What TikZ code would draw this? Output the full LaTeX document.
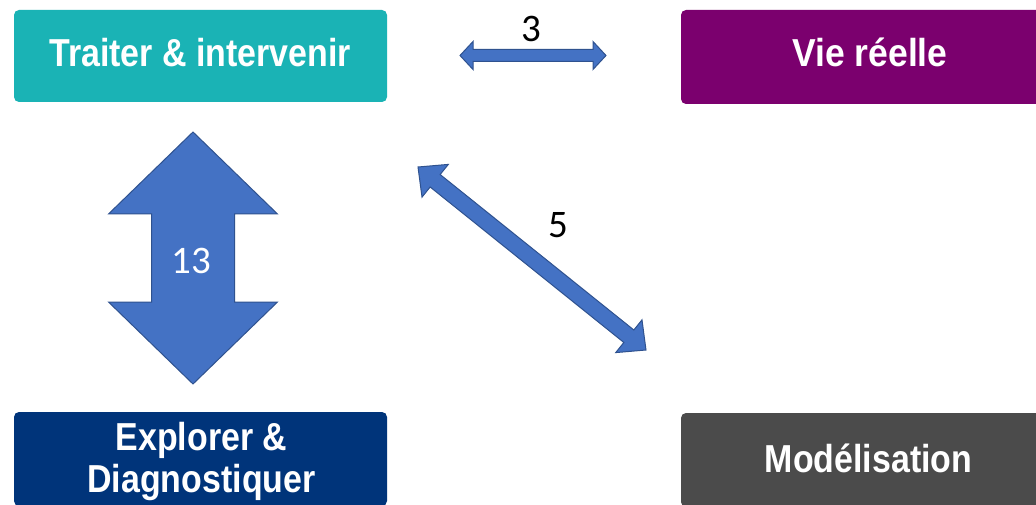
\documentclass[tikz,border=0pt]{standalone}
\usepackage{fontspec}
\setmainfont{Liberation Sans}
\newfontfamily\boxfont{Liberation Sans}[FakeStretch=0.87]
\newfontfamily\viefont{Liberation Sans}[FakeStretch=0.91]
\newfontfamily\numfont{Carlito}
\usetikzlibrary{calc}
\definecolor{tealbox}{HTML}{1AB3B5}
\definecolor{purpbox}{HTML}{7B006E}
\definecolor{navybox}{HTML}{00347A}
\definecolor{graybox}{HTML}{4B4B4B}
\definecolor{arrfill}{HTML}{4472C4}
\definecolor{arrdraw}{HTML}{2F528F}
\tikzset{
  boxnode/.style={rectangle, rounded corners=5pt, draw=none, minimum width=373pt, inner sep=0pt},
  boxlabel/.style={text=white, inner sep=0pt, anchor=base, font=\boxfont\bfseries\fontsize{39}{42}\selectfont, align=center},
  numlabel/.style={inner sep=0pt, font=\numfont\fontsize{39}{42}\selectfont},
  fatarrowstyle/.style={fill=arrfill, draw=arrdraw, line width=1pt, line join=miter}
}
% #1 start, #2 end, #3 shaft half width, #4 head half width, #5 head length
\newcommand\fatarrow[5]{%
  \coordinate (#1-p) at ($(#1)!#5!(#2)$);
  \coordinate (#1-q) at ($(#2)!#5!(#1)$);
  \draw[fatarrowstyle] (#1)
    -- ($(#1-p)!#4!90:(#2)$) -- ($(#1-p)!#3!90:(#2)$)
    -- ($(#1-q)!#3!-90:(#1)$) -- ($(#1-q)!#4!-90:(#1)$)
    -- (#2)
    -- ($(#1-q)!#4!90:(#1)$) -- ($(#1-q)!#3!90:(#1)$)
    -- ($(#1-p)!#3!-90:(#2)$) -- ($(#1-p)!#4!-90:(#2)$)
    -- cycle;
}
\begin{document}
\begin{tikzpicture}[x=1pt,y=-1pt]
\useasboundingbox (0,0) rectangle (1036,505);
\clip (0,0) rectangle (1036,505);
\fill[white] (0,0) rectangle (1036,505);

% boxes
\node[boxnode, fill=tealbox, minimum height=92pt] (traiter) at (200.5,56) {};
\node[boxnode, fill=purpbox, minimum height=94pt] (vie) at (867.5,57) {};
\node[boxnode, fill=navybox, minimum height=94pt] (explorer) at (200.5,459) {};
\node[boxnode, fill=graybox, minimum height=94pt] (model) at (867.5,460) {};

% box texts
\node[boxlabel] (traiterT) at (200,67) {Traiter \& intervenir};
\node[boxlabel, font=\viefont\bfseries\fontsize{39}{42}\selectfont] (vieT) at (870,67) {Vie réelle};
\node[boxlabel] (explorerT) at (201.5,492) {Explorer \&\\Diagnostiquer};
\node[boxlabel] (modelT) at (868.5,472) {Modélisation};

% arrows
\coordinate (hA) at (460,55.5);
\coordinate (hB) at (606,55.5);
\fatarrow{hA}{hB}{6pt}{14pt}{13pt}

\coordinate (vA) at (193,132);
\coordinate (vB) at (193,384);
\fatarrow{vA}{vB}{41.5pt}{84.5pt}{82pt}

\coordinate (dA) at (418,167);
\coordinate (dB) at (646,350);
\fatarrow{dA}{dB}{8pt}{21pt}{22pt}

% numbers
\node[numlabel] (n3) at (531,29) {3};
\node[numlabel, text=white] (n13) at (191.5,260.5) {13};
\node[numlabel] (n5) at (558.5,225.5) {5};
\end{tikzpicture}
\end{document}
